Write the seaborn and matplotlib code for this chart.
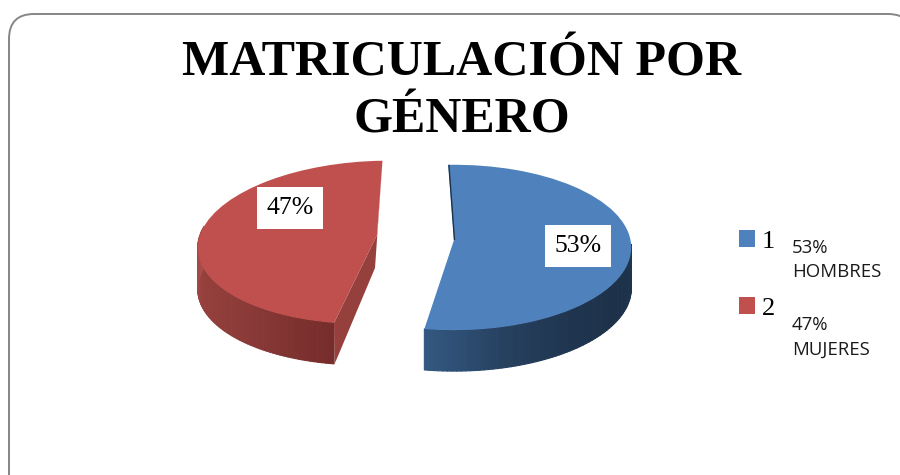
# -*- coding: utf-8 -*-
import numpy as np
import matplotlib
matplotlib.use('Agg')
import matplotlib.pyplot as plt
import seaborn as sns
from matplotlib.collections import PolyCollection
from matplotlib.patches import FancyBboxPatch, Patch, Rectangle
from matplotlib.transforms import Transform

sns.set_theme(style="white")

TITULO = "MATRICULACIÓN POR\nGÉNERO"
categorias = ["1", "2"]
valores = [53, 47]
notas = ["HOMBRES", "MUJERES"]
colores = ["#4f81bd", "#c0504d"]

SERIF = "Liberation Serif"
ANGULO_INICIO = 92
PROFUNDIDAD = 41


# Tilted view of the unit pie: far edge smaller than the near edge
class Vista(Transform):
    input_dims = 2
    output_dims = 2
    is_separable = False
    has_inverse = False

    def __init__(self, cx, cy, a=178.0, b=82.0, p=0.09, cizalla=0.0):
        super().__init__()
        self.cx, self.cy, self.a, self.b, self.p, self.cizalla = cx, cy, a, b, p, cizalla

    def transform_non_affine(self, values):
        values = np.asarray(values, dtype=float)
        w = 1 + self.p * values[:, 1]
        y = self.b * values[:, 1] / w
        x = self.a * values[:, 0] / w + self.cizalla * y
        return np.column_stack((self.cx + x, self.cy - y))


def pared(ax, vista, t0, t1, tonos):
    # Outer wall of a slice, one small quad per step with its own shade
    t = np.radians(np.linspace(t0, t1, len(tonos) + 1))
    borde = vista.transform_non_affine(np.column_stack((np.cos(t), np.sin(t))))
    quads = [[borde[i], borde[i + 1], borde[i + 1] + [0, PROFUNDIDAD], borde[i] + [0, PROFUNDIDAD]]
             for i in range(len(tonos))]
    ax.add_collection(PolyCollection(quads, facecolors=tonos, edgecolors=tonos, linewidths=0.8, zorder=2))


fig = plt.figure(figsize=(9, 4.75), dpi=100, facecolor="white")
ax = fig.add_axes([0, 0, 1, 1])

cortes = ax.pie(valores, colors=colores, startangle=ANGULO_INICIO, counterclock=False,
                wedgeprops={"linewidth": 0, "zorder": 3})[0]
ax.set_aspect("auto")
ax.set_xlim(0, 900)
ax.set_ylim(475, 0)

vista_azul = Vista(454, 240, a=176.5, b=82)
vista_roja = Vista(377, 235, a=177, b=81, cizalla=0.15)
cortes[0].set_transform(vista_azul + ax.transData)
cortes[1].set_transform(vista_roja + ax.transData)

fin_azul = ANGULO_INICIO - 360 * valores[0] / sum(valores)

# Side walls
pared(ax, vista_azul, fin_azul, -3,
      sns.blend_palette(["#335880", "#26405f", "#1f344e", "#1d3249", "#1f354f"], n_colors=70))
pared(ax, vista_roja, fin_azul, -186,
      sns.blend_palette(["#762d2b", "#8a3a38", "#96403d", "#a84e4b"], n_colors=70))

# Cut face of the red slice, between the rim ends and the apex
t_ini, t_fin = np.radians([ANGULO_INICIO, fin_azul])
rim = vista_roja.transform_non_affine(np.array([[np.cos(t_ini), np.sin(t_ini)],
                                                [0, 0],
                                                [np.cos(t_fin), np.sin(t_fin)]]))
ax.fill([rim[0][0], rim[1][0], rim[2][0], rim[2][0] + 1, rim[1][0] - 2],
        [rim[0][1], rim[1][1], rim[2][1], rim[2][1] + 40, rim[1][1] + 33],
        color="#96403d", lw=0, zorder=2)

# Thin dark sliver on the blue cut
rim_a = vista_azul.transform_non_affine(np.array([[np.cos(t_ini), np.sin(t_ini)], [0, 0]]))
ax.plot(rim_a[:, 0] + 0.5, rim_a[:, 1], color="#1d3249", lw=1.0, zorder=4, solid_capstyle="butt")

# Percent labels on white boxes
for v, (x0, y0) in zip(valores, [(545, 225), (257, 187)]):
    ax.add_patch(Rectangle((x0, y0), 66, 42, facecolor="white", edgecolor="none", zorder=5))
    ax.text(x0 + 33, y0 + 21, f"{v}%", family=SERIF, fontsize=18.5, color="black",
            ha="center", va="center", zorder=6)

# Chart frame, runs off the right and bottom of the picture
ax.add_patch(FancyBboxPatch((34, 39), 854, 480, boxstyle="round,pad=25,rounding_size=25",
                            facecolor="none", edgecolor="#868686", lw=1.4, zorder=1))

ax.text(462, 92, TITULO, family=SERIF, fontweight="bold", fontsize=36, color="black",
        ha="center", va="center", linespacing=1.32)

handles = [Patch(facecolor=c, edgecolor="none") for c in colores]
leg = ax.legend(handles, categorias, loc="upper left", bbox_to_anchor=(739 / 900, 1 - 230 / 475),
                frameon=False, borderaxespad=0, borderpad=0, handlelength=0.6, handleheight=0.6,
                handletextpad=0.26, labelspacing=1.68, prop={"family": SERIF, "size": 19})
for t in leg.get_texts():
    t.set_color("black")

for v, nota, y in zip(valores, notas, [260, 337]):
    ax.text(792, y, f"{v}%\n{nota}", family="Open Sans", fontsize=13.4, color="#1a1a1a",
            ha="left", va="center", linespacing=1.48)

fig.savefig("out.png", dpi=100)
plt.close(fig)
